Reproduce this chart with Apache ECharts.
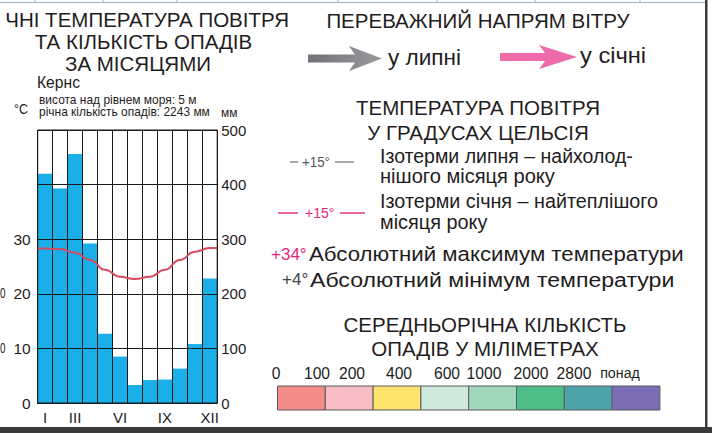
<!DOCTYPE html>
<html>
<head>
<meta charset="utf-8">
<script src="https://cdn.jsdelivr.net/npm/echarts@6/dist/echarts.min.js"></script>
<style>
html,body{margin:0;padding:0;background:#fff;}
#c{width:712px;height:433px;}
</style>
</head>
<body>
<div id="c"></div>
<script>
// ---- data ----
const months = ['I','II','III','IV','V','VI','VII','VIII','IX','X','XI','XII'];
const shownMonthLabels = ['I','III','VI','IX','XII'];
const precipitation = [420, 393, 456, 292, 127, 85, 33, 42, 43, 63, 108, 228]; // mm
const temperature = [28.3, 28.2, 27.5, 26.2, 24.4, 23.1, 22.7, 23.1, 24.4, 26.2, 27.7, 28.4]; // °C
const tempAtLeftEdge = 28.3;
const tempAtRightEdge = 28.4;
const precipTicks = [0, 100, 200, 300, 400, 500];
const tempTicks = [0, 10, 20, 30];
const scaleLabels = ['0','100','200','400','600','1000','2000','2800','понад'];
const scaleColors = ['#F28D8A','#F8BCC4','#FDE46C','#CFEADD','#A0D7BA','#4FBD88','#4CA4AA','#7B6CB6'];

const F = '"Liberation Sans", Arial, sans-serif';
const el = [];
function txt(t, x, y, size, opt) {
  opt = opt || {};
  el.push({
    type: 'text', x: x, y: y, z: 100,
    scaleX: opt.sx || 1,
    style: {
      text: t, font: (opt.weight || 'normal') + ' ' + size + 'px ' + F,
      fill: opt.fill || '#1f1c1d',
      textAlign: opt.align || 'left', align: opt.align || 'left',
      textVerticalAlign: 'middle', verticalAlign: 'middle'
    }
  });
}
function seg(x1, y1, x2, y2, color, w) {
  el.push({type: 'line', z: 100, shape: {x1, y1, x2, y2}, style: {stroke: color, lineWidth: w || 1}});
}

// frame
seg(0, 2.5, 706, 2.5, '#9db3c9', 1);
[35, 103, 177, 338, 437, 535, 640].forEach(x => seg(x, 0, x, 2.5, '#9db3c9', 1));
el.push({type: 'rect', z: 100, shape: {x: 705, y: 0, width: 2.5, height: 428}, style: {fill: '#3b3b3b'}});
el.push({type: 'rect', z: 100, shape: {x: 0, y: 427, width: 712, height: 6}, style: {fill: '#3b3b3b'}});

// left titles
txt('ЧНІ ТЕМПЕРАТУРА ПОВІТРЯ', 289, 19.5, 20.5, {align: 'right'});
txt('ТА КІЛЬКІСТЬ ОПАДІВ', 143.5, 41, 20.5, {align: 'center'});
txt('ЗА МІСЯЦЯМИ', 138, 63, 20.5, {align: 'center'});
txt('Кернс', 37, 81.5, 17, {sx: 0.92});
txt('висота над рівнем моря: 5 м', 39, 100, 13, {sx: 0.92});
txt('річна кількість опадів: 2243 мм', 39, 112, 13, {sx: 0.92});
txt('°C', 14, 109, 14, {sx: 0.9});
txt('мм', 221, 113, 13, {sx: 0.92});
// fragments of neighbouring chart at the left edge
txt('0', 0, 293, 14, {sx: 0.7});
txt('0', 0, 348, 14, {sx: 0.7});

// wind
txt('ПЕРЕВАЖНИЙ НАПРЯМ ВІТРУ', 478, 20.5, 20.5, {align: 'center'});
el.push({type: 'polygon', z: 100, shape: {points: [[308,54.5],[355,54.5],[349,46],[382,58.5],[349,71],[355,62.5],[308,62.5]]},
  style: {fill: new echarts.graphic.LinearGradient(0, 0, 1, 0, [{offset: 0, color: '#717275'}, {offset: 1, color: '#9a9b9e'}])}});
txt('у липні', 388, 58, 21.5, {sx: 1.05});
el.push({type: 'polygon', z: 100, shape: {points: [[500,53],[545,53],[539,45],[577,57],[539,69],[545,61],[500,61]]},
  style: {fill: '#EE6AA8'}});
txt('у січні', 580, 56, 21.5, {sx: 1.1});

// temperature legend
txt('ТЕМПЕРАТУРА ПОВІТРЯ', 478, 107.5, 20.5, {align: 'center'});
txt('У ГРАДУСАХ ЦЕЛЬСІЯ', 478, 132.5, 20.5, {align: 'center'});
seg(290, 162, 298, 162, '#555', 1);
txt('+15°', 302, 162, 14, {fill: '#555', sx: 0.95});
seg(335, 162, 354, 162, '#555', 1);
txt('Ізотерми липня – найхолод-', 380, 155.5, 19.5);
txt('нішого місяця року', 380, 176.5, 19.5, {sx: 1.03});
seg(278, 213, 298, 213, '#E5267C', 1.4);
txt('+15°', 305, 213, 14, {fill: '#E5267C'});
seg(340, 213, 365, 213, '#E5267C', 1.4);
txt('Ізотерми січня – найтеплішого', 380, 201, 19.5, {sx: 1.015});
txt('місяця року', 380, 222, 19.5, {sx: 1.02});
txt('+34°', 271, 254, 17, {fill: '#E5267C'});
txt('Абсолютний максимум температури', 309, 254, 21, {sx: 1.06});
txt('+4°', 282, 279.5, 17, {fill: '#444'});
txt('Абсолютний мінімум температури', 310, 279.5, 21, {sx: 1.1});

// precipitation scale
txt('СЕРЕДНЬОРІЧНА КІЛЬКІСТЬ', 485, 324.5, 20.5, {align: 'center'});
txt('ОПАДІВ У МІЛІМЕТРАХ', 485, 348, 20.5, {align: 'center'});
const labelX = [276, 317, 352, 399, 447, 484, 531, 574, 620];
scaleLabels.forEach((s, i) => txt(s, labelX[i], 373, i === 8 ? 15 : 16.5, {align: 'center', sx: 0.95}));
scaleColors.forEach((c, i) => {
  el.push({type: 'rect', z: 100, shape: {x: 277.5 + i * 47.8, y: 386, width: 47.8, height: 24},
    style: {fill: c, stroke: '#5a5a5a', lineWidth: 1}});
});

const chart = echarts.init(document.getElementById('c'), null, {renderer: 'svg'});
const lineData = [[0, tempAtLeftEdge]].concat(temperature.map((t, i) => [i + 0.5, t]), [[12, tempAtRightEdge]]);
chart.setOption({
  animation: false,
  grid: {left: 37.7, top: 130, width: 179.5, height: 273, show: true, borderColor: '#1a1a1a', borderWidth: 1, z: 4},
  xAxis: [{
    type: 'category', data: months, z: 4,
    axisLine: {lineStyle: {color: '#1a1a1a', width: 1.2}},
    axisTick: {show: false},
    splitLine: {show: true, interval: 0, lineStyle: {color: '#1a1a1a', width: 1}},
    axisLabel: {interval: 0, margin: 7, fontSize: 15, fontFamily: F, color: '#1f1c1d',
      formatter: v => shownMonthLabels.indexOf(v) >= 0 ? v : ''}
  }, {
    type: 'value', min: 0, max: 12, show: false
  }],
  yAxis: [{
    type: 'value', position: 'right', min: 0, max: 500, interval: 100, z: 4,
    axisLine: {show: false}, axisTick: {show: false},
    splitLine: {show: true, lineStyle: {color: '#1a1a1a', width: 1}},
    axisLabel: {margin: 4, fontSize: 15, fontFamily: F, color: '#1f1c1d',
      formatter: v => precipTicks.indexOf(v) >= 0 ? String(v) : ''}
  }, {
    type: 'value', position: 'left', min: 0, max: 50, interval: 10, z: 4,
    axisLine: {show: false}, axisTick: {show: false}, splitLine: {show: false},
    axisLabel: {margin: 7, fontSize: 15.5, fontFamily: F, color: '#1f1c1d',
      formatter: v => tempTicks.indexOf(v) >= 0 ? String(v) : ''}
  }],
  series: [{
    type: 'bar', data: precipitation, xAxisIndex: 0, yAxisIndex: 0,
    barCategoryGap: '0%', itemStyle: {color: '#1BAFEA'}, z: 2
  }, {
    type: 'line', data: lineData, xAxisIndex: 1, yAxisIndex: 1,
    smooth: 0.5, smoothMonotone: 'x', showSymbol: false, z: 6,
    lineStyle: {color: '#D84A5E', width: 2}
  }],
  graphic: {elements: el}
});
</script>
</body>
</html>
